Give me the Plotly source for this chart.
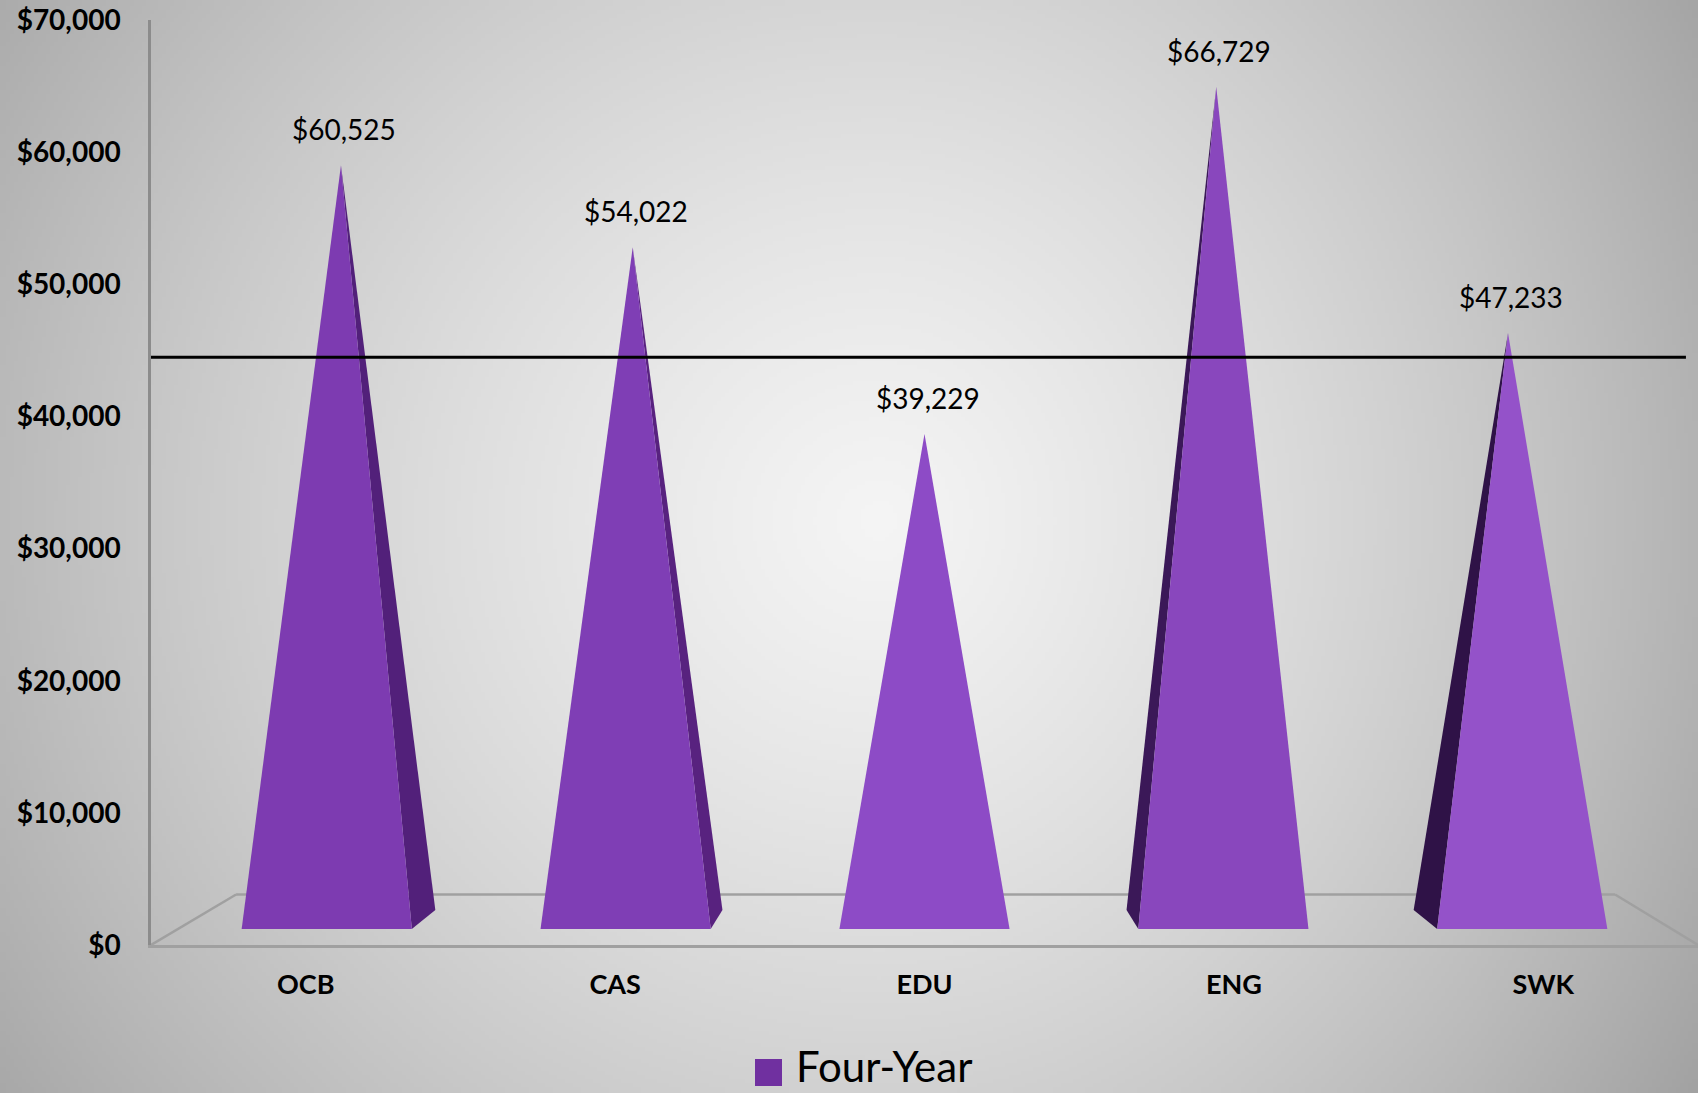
import base64
import struct
import zlib

import numpy as np
import plotly.graph_objects as go

categories = ["OCB", "CAS", "EDU", "ENG", "SWK"]
four_year = [60525, 54022, 39229, 66729, 47233]
benchmark = 45300
y_ticks = [0, 10000, 20000, 30000, 40000, 50000, 60000, 70000]

front_colors = ["#7d3bb1", "#7f3eb5", "#8d4bc6", "#8947bd", "#9452c9"]
side_colors = ["#52207a", "#58227f", "#8d4bc6", "#3b1858", "#2f1247"]

W, H = 1698, 1093
ML, MR, MT, MB = 151, 0, 20, 148
PW, PH = W - ML - MR, H - MT - MB


def png_chunk(tag, data):
    return struct.pack(">I", len(data)) + tag + data + struct.pack(">I", zlib.crc32(tag + data) & 0xffffffff)


def background_png(w, h):
    # soft radial grey gradient like the office chart background
    yy, xx = np.mgrid[0:h, 0:w]
    px = (xx + 0.5) * W / w
    py = (yy + 0.5) * H / h
    cx, cy = 880, 520
    rx = np.where(px < cx, 1050, 900)
    d = np.sqrt(((px - cx) / rx) ** 2 + ((py - cy) / 1000) ** 2)
    v = np.clip(245 - 45 * d - 30 * d ** 2, 0, 255).astype(np.uint8)
    raw = b"".join(b"\x00" + row.tobytes() for row in v)
    png = b"\x89PNG\r\n\x1a\n"
    png += png_chunk(b"IHDR", struct.pack(">IIBBBBB", w, h, 8, 0, 0, 0, 0))
    png += png_chunk(b"IDAT", zlib.compress(raw, 9))
    png += png_chunk(b"IEND", b"")
    return "data:image/png;base64," + base64.b64encode(png).decode()


# 3d look: apexes and bases drift toward the middle, side faces show depth
apex_step = 0.943
base_step = 0.966
half_w = 0.275
side_dx = 0.038
side_dy = 1500

fig = go.Figure()
for i, (cat, val) in enumerate(zip(categories, four_year)):
    k = i - 2
    ax = 2 + k * apex_step
    bc = 2 + k * base_step
    left, right = bc - half_w, bc + half_w
    if k < 0:
        fig.add_trace(go.Scatter(x=[ax, right, right - k * side_dx, ax], y=[val, 0, side_dy, val],
                                 fill="toself", mode="lines", line_width=0,
                                 fillcolor=side_colors[i], hoverinfo="skip", showlegend=False))
    elif k > 0:
        fig.add_trace(go.Scatter(x=[ax, left, left - k * side_dx, ax], y=[val, 0, side_dy, val],
                                 fill="toself", mode="lines", line_width=0,
                                 fillcolor=side_colors[i], hoverinfo="skip", showlegend=False))
    fig.add_trace(go.Scatter(x=[left, right, ax, left], y=[0, 0, val, 0],
                             fill="toself", mode="lines", line_width=0,
                             fillcolor=front_colors[i], name=cat, hoverinfo="skip", showlegend=False))
    fig.add_annotation(x=ax, y=val, text="${:,}".format(val), showarrow=False,
                       yanchor="middle", xshift=3, yshift=36,
                       font=dict(family="Lato", size=28, color="black"))

# invisible trace so the dollar axis gets drawn
fig.add_trace(go.Scatter(x=[0, 4], y=[y_ticks[0], y_ticks[-1]], yaxis="y2", mode="markers",
                         marker_opacity=0, hoverinfo="skip", showlegend=False))

floor_back = 2734
floor_front = -1268
floor_line = dict(color="#a0a0a0", width=2.5)
for x0, y0, x1, y1 in [(-0.5, floor_front, -0.225, floor_back),
                       (-0.225, floor_back, 4.232, floor_back),
                       (4.232, floor_back, 4.5, floor_front)]:
    fig.add_shape(type="line", xref="x", yref="y", x0=x0, y0=y0, x1=x1, y1=y1,
                  line=floor_line, layer="below")

fig.add_shape(type="line", xref="x", yref="y", x0=-0.5, x1=4.461, y0=benchmark, y1=benchmark,
              line=dict(color="black", width=3), layer="above")

# legend drawn by hand so the swatch can be large
fig.add_shape(type="rect", xref="paper", yref="paper",
              x0=(755 - ML) / PW, x1=(782 - ML) / PW,
              y0=(MT + PH - 1059) / PH, y1=(MT + PH - 1086) / PH,
              fillcolor="#7030a0", line_width=0)
fig.add_annotation(xref="paper", yref="paper", x=(794 - ML) / PW, y=(MT + PH - 1066) / PH,
                   text="Four-Year", showarrow=False, xanchor="left", yanchor="middle",
                   font=dict(family="Lato", size=42, color="black"))

fig.add_layout_image(source=background_png(425, 274), xref="paper", yref="paper",
                     x=-ML / PW, y=1 + MT / PH, sizex=W / PW, sizey=H / PH,
                     sizing="stretch", xanchor="left", yanchor="top", layer="below")

fig.update_layout(
    width=W, height=H, autosize=False,
    margin=dict(l=ML, r=MR, t=MT, b=MB, pad=0),
    paper_bgcolor="#c8c8c8", plot_bgcolor="rgba(0,0,0,0)",
    showlegend=False, hovermode=False,
    xaxis=dict(range=[-0.5, 4.5], tickvals=list(range(len(categories))), ticktext=categories,
               showgrid=False, zeroline=False, showline=True, linecolor="#a0a0a0", linewidth=2.5,
               ticks="", ticklabelstandoff=14,
               tickfont=dict(family="Lato", size=27, color="black", weight="bold")),
    yaxis=dict(range=[floor_front, 72029], showgrid=False, zeroline=False, showline=False,
               showticklabels=False, ticks=""),
    yaxis2=dict(range=[0, 70000], overlaying="y", side="left", anchor="x",
                tickvals=y_ticks, tickformat="$,.0f",
                showgrid=False, zeroline=False, showline=True, linecolor="#8c8c8c", linewidth=2.5,
                ticks="", ticklabelstandoff=22,
                tickfont=dict(family="Lato", size=28, color="black", weight="bold")),
)

fig.write_html("out.html", config={"displayModeBar": False},
               post_script="document.body.style.margin='0';document.body.style.overflow='hidden';")
